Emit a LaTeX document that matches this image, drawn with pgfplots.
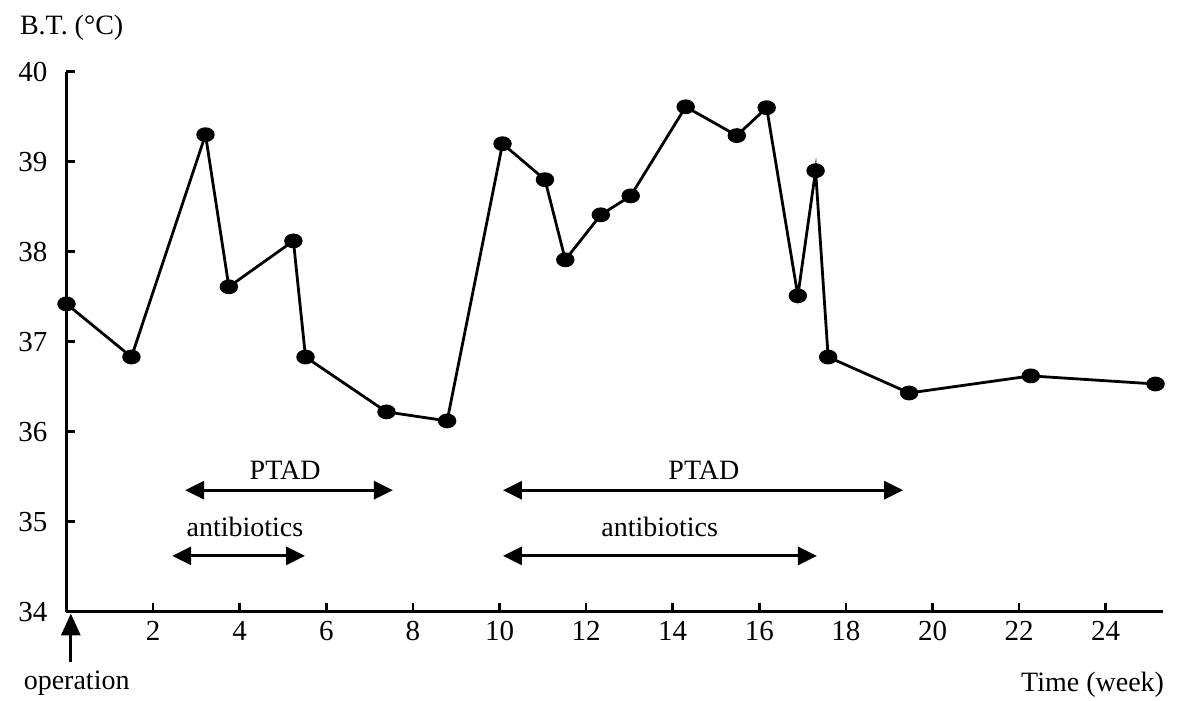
\documentclass[border=0pt]{standalone}
\usepackage{pgfplots}
\pgfplotsset{compat=1.18}
\usepackage{fontspec}
\setmainfont{Liberation Serif}
\usetikzlibrary{arrows.meta}

\pgfplotstableread{
x y
0 37.42
1.5 36.83
3.21 39.30
3.75 37.61
5.24 38.12
5.52 36.83
7.39 36.22
8.79 36.12
10.07 39.20
11.05 38.80
11.52 37.91
12.34 38.41
13.03 38.62
14.30 39.61
15.48 39.29
16.17 39.60
16.89 37.51
17.30 38.90
17.59 36.83
19.46 36.43
22.27 36.62
25.15 36.53
}\bt

\begin{document}
\begin{tikzpicture}
\begin{axis}[
 scale only axis, width=548.4pt, height=270pt,
 xmin=0, xmax=25.33, ymin=34, ymax=40,
 axis x line*=bottom, axis y line*=left,
 axis line style={line width=1.5pt, -},
 xtick={2,4,...,24}, ytick={34,35,...,40},
 tick align=inside, major tick length=4.5pt,
 tick style={line width=1.3pt, black},
 every tick label/.append style={font=\fontsize{14.5}{16}\selectfont},
 /pgf/number format/assume math mode=true,
 xticklabel style={yshift=-4pt, text height=0.68em, text depth=0pt},
 yticklabel style={xshift=-6pt},
 clip=false,
]
\addplot[black, line width=1.4pt, mark=*, mark size=3pt,
  mark options={xscale=1.3, solid, fill=black}] table {\bt};

\coordinate (O) at (rel axis cs:0,0);

\tikzset{dbl/.style={line width=1.5pt, {Triangle[length=9.5pt,width=9pt]}-{Triangle[length=9.5pt,width=9pt]}}}
\draw[dbl] (axis cs:2.74,35.35) -- (axis cs:7.54,35.35);
\draw[dbl] (axis cs:2.44,34.62) -- (axis cs:5.51,34.62);
\draw[dbl] (axis cs:10.08,35.35) -- (axis cs:19.32,35.35);
\draw[dbl] (axis cs:10.08,34.62) -- (axis cs:17.33,34.62);

\node[anchor=base, font=\fontsize{14}{16}\selectfont] at (axis cs:5.05,35.47) {PTAD};
\node[anchor=base, font=\fontsize{14}{16}\selectfont] at (axis cs:4.12,34.84) {antibiotics};
\node[anchor=base, font=\fontsize{14}{16}\selectfont] at (axis cs:14.72,35.47) {PTAD};
\node[anchor=base, font=\fontsize{14}{16}\selectfont] at (axis cs:13.70,34.84) {antibiotics};

\draw[line width=1.6pt, -{Triangle[length=11pt,width=9.5pt]}] (axis cs:0.10,33.445) -- (axis cs:0.10,33.98);
\node[anchor=base, font=\fontsize{14}{16}\selectfont] at (axis cs:0.235,33.13) {operation};
\node[anchor=base east, font=\fontsize{14}{16}\selectfont] at (axis cs:25.51,33.108) {Time (week)};
\end{axis}
\node[anchor=west, font=\fontsize{14}{16}\selectfont] at ([xshift=-26.75pt,yshift=291.85pt]O) {B.T. (°C)};
\pgfresetboundingbox
\path ([xshift=-33.25pt,yshift=-44.65pt]O) rectangle ([xshift=556.25pt,yshift=305.85pt]O);
\end{tikzpicture}
\end{document}
